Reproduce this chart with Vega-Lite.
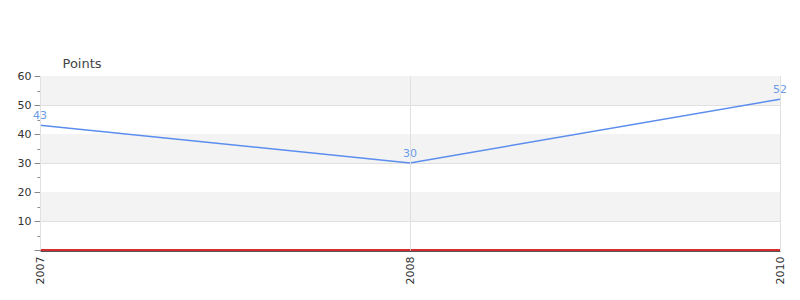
{
  "$schema": "https://vega.github.io/schema/vega-lite/v6.json",
  "autosize": {"type": "none"},
  "width": 740,
  "height": 174,
  "padding": {"left": 40, "top": 76, "right": 20, "bottom": 50},
  "background": "white",
  "config": {"view": {"stroke": null}, "font": "DejaVu Sans"},
  "datasets": {
    "pts": [
      {"year": "2007", "points": 43},
      {"year": "2008", "points": 30},
      {"year": "2010", "points": 52}
    ],
    "bands": [
      {"lo": 10, "hi": 20},
      {"lo": 30, "hi": 40},
      {"lo": 50, "hi": 60}
    ]
  },
  "encoding": {
    "y": {"type": "quantitative", "scale": {"domain": [0, 60], "nice": false},
      "axis": {"values": [0,5,10,15,20,25,30,35,40,45,50,55,60], "labelOverlap": false, "labelExpr": "datum.value % 10 === 0 && datum.value > 0 ? datum.label : ''", "title": "Points", "titleAngle": 0, "titleX": 22, "titleY": -6, "titleAlign": "left", "titleBaseline": "bottom", "titleFontSize": 13, "titleFontWeight": "normal", "titleColor": "#444", "grid": true, "gridColor": "#e0e0e0", "gridOpacity": {"condition": {"test": "datum.value % 10 === 0 && datum.value > 0", "value": 1}, "value": 0}, "domain": true, "domainColor": "#888", "tickColor": "#888", "tickSize": {"condition": {"test": "datum.value % 10 === 0", "value": 6}, "value": 3}, "labelFontSize": 11, "labelColor": "#333", "labelPadding": 3}}
  },
  "layer": [
    {
      "data": {"name": "bands"},
      "mark": {"type": "rect", "color": "#f3f3f3"},
      "encoding": {
        "y": {"field": "lo", "type": "quantitative"},
        "y2": {"field": "hi"}
      }
    },
    {
      "data": {"name": "pts"},
      "mark": {"type": "rule", "color": "#d01010", "strokeWidth": 1},
      "encoding": {"y": {"datum": 0, "type": "quantitative"}}
    },
    {
      "data": {"name": "pts"},
      "mark": {"type": "line", "color": "#5b8def", "strokeWidth": 1.5},
      "encoding": {
        "x": {"field": "year", "type": "ordinal", "scale": {"type": "point", "padding": 0},
          "axis": {"title": null, "offset": 1, "labelAngle": -90, "labelAlign": "right", "labelBaseline": "middle", "grid": true, "gridColor": "#e0e0e0", "zindex": 1, "domainColor": "#555", "ticks": false, "labelFontSize": 11, "labelColor": "#333", "labelPadding": 5}},
        "y": {"field": "points", "type": "quantitative"}
      }
    },
    {
      "data": {"name": "pts"},
      "mark": {"type": "text", "color": "#6b9be8", "fontSize": 11, "dy": -9},
      "encoding": {
        "x": {"field": "year", "type": "ordinal"},
        "y": {"field": "points", "type": "quantitative"},
        "text": {"field": "points", "type": "quantitative"}
      }
    }
  ]
}
